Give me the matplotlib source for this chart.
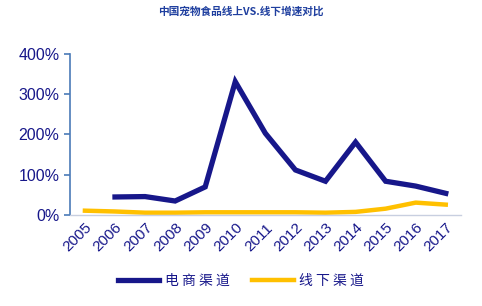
import matplotlib.pyplot as plt
import numpy as np

plt.rcParams['font.family'] = ['Liberation Sans', 'Noto Sans CJK SC', 'DejaVu Sans']

years = ['2005', '2006', '2007', '2008', '2009', '2010', '2011',
         '2012', '2013', '2014', '2015', '2016', '2017']
online = [np.nan, 45, 46, 35, 70, 331, 203, 112, 84, 181, 84, 72, 54]
offline = [11, 9, 6, 6, 7, 7, 7, 7, 6, 8, 16, 31, 26]

navy = '#17178a'
gold = '#ffc000'

fig = plt.figure(figsize=(4.82, 3.06), dpi=100)
ax = fig.add_axes([0.145, 0.297, 0.811, 0.527])

x = np.arange(len(years))
ax.plot(x, online, color=navy, lw=3.8, solid_joinstyle='miter', label='电 商 渠 道')
ax.plot(x, offline, color=gold, lw=3.2, label='线 下 渠 道')

ax.set_xlim(-0.5, len(years) - 0.5)
ax.set_ylim(0, 400)
ax.set_yticks([0, 100, 200, 300, 400])
ax.set_yticklabels(['0%', '100%', '200%', '300%', '400%'])
ax.set_xticks(x)
ax.set_xticklabels(years, rotation=45, ha='right', rotation_mode='anchor')

for s in ['top', 'right']:
    ax.spines[s].set_visible(False)
ax.spines['left'].set_color('#4a7ab8')
ax.spines['left'].set_linewidth(1.2)
ax.spines['bottom'].set_color('#c8cfe0')
ax.spines['bottom'].set_linewidth(1.0)
ax.tick_params(axis='y', colors='#4a7ab8', labelcolor=navy, labelsize=11.5,
               length=4, width=1.2, direction='out')
ax.tick_params(axis='x', length=0, labelcolor=navy, labelsize=11, pad=4)

fig.text(0.5, 0.962, '中国宠物食品线上VS.线下增速对比', ha='center', va='center',
         fontsize=7.7, fontweight='bold', color='#1f3f9f',
         family=['Noto Sans CJK SC', 'DejaVu Sans'])

leg = fig.legend(loc='center', bbox_to_anchor=(0.5, 0.082), ncol=2, frameon=False,
                 handlelength=3.0, columnspacing=1.6, handletextpad=0.4,
                 prop={'family': ['Noto Sans CJK SC', 'DejaVu Sans'], 'size': 10})
for t in leg.get_texts():
    t.set_color(navy)

fig.savefig('out.png', dpi=100)
